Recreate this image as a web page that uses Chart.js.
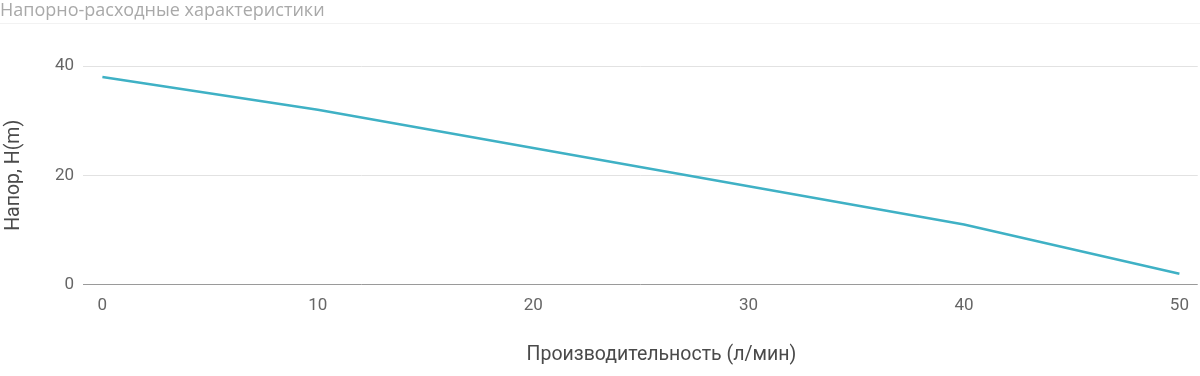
<!DOCTYPE html>
<html>
<head>
<meta charset="utf-8">
<script src="https://cdn.jsdelivr.net/npm/chart.js@4.4.1/dist/chart.umd.min.js"></script>
<style>
  html, body { margin: 0; padding: 0; background: #fff; }
  #wrap { position: relative; width: 1200px; height: 376px; }
  #title { position: absolute; left: 0; top: -2px; font-family: "Open Sans", sans-serif; font-size: 18px; color: #a9a9a9; line-height: 22px; white-space: nowrap; }
  #sep { position: absolute; left: 0; top: 23px; width: 1200px; height: 1px; background: #f2f2f2; }
  #chartBox { position: absolute; left: 0; top: 0; width: 1200px; height: 376px; }
</style>
</head>
<body>
<div id="wrap">
  <div id="chartBox"><canvas id="mycanvas" width="1200" height="376"></canvas></div>
  <div id="title">Напорно-расходные характеристики</div>
  <div id="sep"></div>
</div>
<script>
var flow = [0, 10, 20, 30, 40, 50];
var head = [38, 32, 25, 18, 11, 2];
var xTicks = [0, 10, 20, 30, 40, 50];
var yTicks = [0, 20, 40];
var xTitle = "Производительность (л/мин)";
var yTitle = "Напор, H(m)";

var points = [];
for (var i = 0; i < flow.length; i++) {
  points.push({ x: flow[i], y: head[i] });
}

// x axis title sits a bit right of the plot centre in the original
var xTitlePlugin = {
  id: "xTitle",
  afterDraw: function(chart) {
    var c = chart.ctx;
    var area = chart.chartArea;
    c.save();
    c.font = "19.5px Roboto";
    c.fillStyle = "#4a4a4a";
    c.textAlign = "center";
    c.textBaseline = "middle";
    c.fillText(xTitle, (area.left + area.right) / 2 + 21, 355);
    c.restore();
  }
};

var ctx = document.getElementById("mycanvas");
new Chart(ctx, {
  type: "line",
  data: {
    datasets: [{
      label: "Напор",
      data: points,
      borderColor: "#3fb1c5",
      backgroundColor: "#3fb1c5",
      borderWidth: 2.5,
      pointRadius: 0,
      tension: 0
    }]
  },
  plugins: [xTitlePlugin],
  options: {
    responsive: false,
    animation: false,
    devicePixelRatio: 1,
    layout: { padding: { top: 66, right: 2, left: 0, bottom: 49 } },
    plugins: { legend: { display: false }, tooltip: { enabled: false } },
    scales: {
      x: {
        type: "linear",
        min: -0.9,
        max: 50.85,
        afterBuildTicks: function(axis) {
          axis.ticks = xTicks.map(function(v) { return { value: v }; });
        },
        grid: { display: false, drawTicks: false },
        border: { display: false },
        ticks: { color: "#666", font: { family: "Roboto", size: 17 }, padding: 11, maxRotation: 0 }
      },
      y: {
        min: 0,
        max: 40,
        afterBuildTicks: function(axis) {
          axis.ticks = yTicks.map(function(v) { return { value: v }; });
        },
        afterFit: function(axis) { axis.width = 83; },
        grid: {
          color: function(c) { return c.tick && c.tick.value === 0 ? "#9a9a9a" : "#e2e2e2"; },
          lineWidth: 1,
          drawTicks: false
        },
        border: { display: false },
        ticks: { color: "#666", font: { family: "Roboto", size: 17 }, padding: 9 },
        title: {
          display: true,
          text: yTitle,
          color: "#4a4a4a",
          font: { family: "Roboto", size: 19.5 },
          padding: { top: 2, bottom: 20 }
        }
      }
    }
  }
});
</script>
</body>
</html>
